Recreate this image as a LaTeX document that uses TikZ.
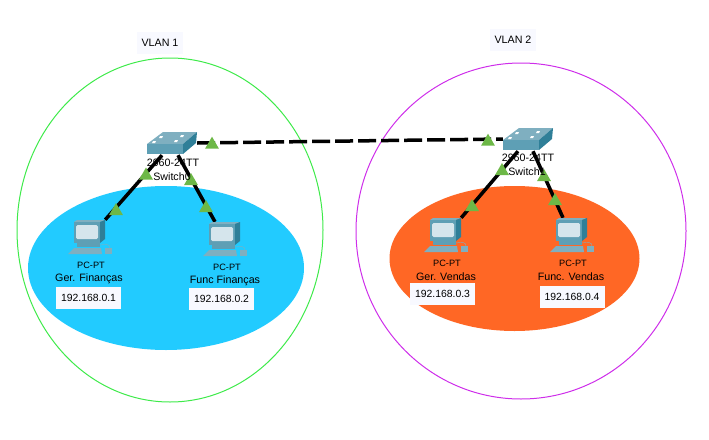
\documentclass[tikz,border=0pt]{standalone}
\usepackage{fontspec}
\setmainfont{Liberation Sans}
\usetikzlibrary{shapes.geometric}
\definecolor{vlanblue}{HTML}{22CBFF}
\definecolor{vlanorange}{HTML}{FF6725}
\definecolor{vlangreen}{HTML}{3EEA4A}
\definecolor{vlanpink}{HTML}{CE2EEA}
\definecolor{linkgreen}{HTML}{6DB847}
\definecolor{ciscotop}{HTML}{7FAFC0}
\definecolor{ciscofront}{HTML}{5E9FB5}
\definecolor{ciscoside}{HTML}{2F7F98}
\definecolor{ciscoscreen}{HTML}{D5E5EC}
\definecolor{ipwhite}{HTML}{F8F9FF}
\tikzset{
  devbox/.style={inner sep=0pt, minimum width=#1, minimum height=24pt},
  vlanring/.style={line width=1pt},
  link/.style={line width=3.5pt, black},
  trunk/.style={line width=3.5pt, black, dash pattern=on 18pt off 5pt},
  portup/.style={regular polygon, regular polygon sides=3, fill=linkgreen, inner sep=0pt, minimum size=16pt},
  lbl/.style={inner sep=0pt, font=\fontsize{10.7}{12}\selectfont},
  vlanlbl/.style={fill=ipwhite, inner sep=0pt, minimum width=46pt, minimum height=22pt, font=\fontsize{10.7}{12}\selectfont},
  pclbl/.style={inner sep=0pt, font=\fontsize{9.2}{11}\selectfont},
  iplbl/.style={fill=ipwhite, inner sep=0pt, minimum width=65pt, minimum height=22pt, font=\fontsize{10.4}{12}\selectfont},
  switchicon/.pic={
    \fill[ciscotop] (-25, 1) -- (-9, -11) -- (25, -11) -- (11, 1) -- cycle;
    \fill[ciscoside] (11, 1) -- (25, -11) -- (24, 0) -- (11, 11) -- cycle;
    \fill[ciscofront] (-25, 1) rectangle (11, 11);
    \fill[white] (-12, -7) -- (-9, -7) -- (-10, -5) -- (-13, -5) -- cycle;
    \fill[white] (9, -8) -- (12, -8) -- (11, -6) -- (8, -6) -- cycle;
    \fill[white] (-19, -2) -- (-16, -2) -- (-17, 0) -- (-20, 0) -- cycle;
    \fill[white] (3, -3) -- (6, -3) -- (5, -1) -- (2, -1) -- cycle;
  },
  pcicon/.pic={
    \fill[ciscotop] (-15, -10) -- (-12, -12) -- (16, -12) -- (11, -10) -- cycle;
    \fill[ciscoside] (11, -10) -- (16, -12) -- (16, 7) -- (11, 11) -- cycle;
    \fill[ciscofront] (-15, -10) rectangle (11, 11);
    \fill[ciscoscreen, rounded corners=1.5pt] (-13, -7) rectangle (9, 7);
    \fill[ciscofront] (-12, 11) rectangle (11, 15);
    \fill[ciscotop] (-21, 22) -- (-15, 16) -- (12, 16) -- (13, 22) -- cycle;
    \fill[ciscotop] (16, 16) rectangle (23, 22);
    \draw[ciscotop, thin] (11, 13) .. controls (17, 12) and (21, 12) .. (21, 16);
  }
}
\begin{document}
\begin{tikzpicture}[x=1pt, y=-1pt]
    \useasboundingbox (0, 0) rectangle (709, 439);
    \node[vlanlbl] (vlan1) at (160, 43) {VLAN 1};
    \node[vlanlbl] (vlan2) at (513, 40) {VLAN 2};
    \draw[vlanring, vlangreen] (170, 230) ellipse [x radius=153, y radius=172];
    \draw[vlanring, vlanpink] (521, 231) ellipse [x radius=165, y radius=168];
    \fill[vlanblue] (166, 268) ellipse [x radius=138, y radius=82];
    \fill[vlanorange] (514.5, 258.5) ellipse [x radius=125, y radius=72.5];

    \node[devbox=50pt] (Switch0) at (172, 143) {};
    \node[devbox=50pt] (Switch1) at (528, 139) {};
    \node[devbox=32pt] (PC0) at (89, 232) {};
    \node[devbox=32pt] (PC1) at (224, 234) {};
    \node[devbox=32pt] (PC2) at (445, 230) {};
    \node[devbox=32pt] (PC3) at (571, 230) {};

    \draw[trunk] (Switch0.east) -- (Switch1.west);
    \draw[link] ([xshift=-10pt]Switch0.south) -- (PC0.north east);
    \draw[link] ([xshift=6pt]Switch0.south) -- ([xshift=-9pt]PC1.north);
    \draw[link] ([xshift=-10pt]Switch1.south) -- (PC2.north east);
    \draw[link] ([xshift=5pt]Switch1.south) -- ([xshift=-8pt]PC3.north);

    \pic at (Switch0) {switchicon};
    \pic at (Switch1) {switchicon};
    \pic at (PC0) {pcicon};
    \pic at (PC1) {pcicon};
    \pic at (PC2) {pcicon};
    \pic at (PC3) {pcicon};

    \node[portup] (port0) at (212, 144.7) {};
    \node[portup] (port1) at (488, 141.7) {};
    \node[portup] (port2) at (146, 175.5) {};
    \node[portup] (port3) at (191, 181) {};
    \node[portup] (port4) at (116, 211) {};
    \node[portup] (port5) at (206, 208) {};
    \node[portup] (port6) at (502, 171) {};
    \node[portup] (port7) at (544, 177) {};
    \node[portup] (port8) at (472, 207) {};
    \node[portup] (port9) at (555, 201) {};

    \node[lbl] (model0) at (173, 163) {2960-24TT};
    \node[lbl] (name0) at (172, 177) {Switch0};
    \node[lbl] (model1) at (528, 158) {2960-24TT};
    \node[lbl] (name1) at (527, 172) {Switch1};

    \node[pclbl] (pctype0) at (91, 265) {PC-PT};
    \node[lbl] (pcname0) at (89, 279) {Ger. Finanças};
    \node[pclbl] (pctype1) at (227, 267) {PC-PT};
    \node[lbl] (pcname1) at (225, 281) {Func Finanças};
    \node[pclbl] (pctype2) at (447, 263) {PC-PT};
    \node[lbl] (pcname2) at (446, 277) {Ger. Vendas};
    \node[pclbl] (pctype3) at (573, 263) {PC-PT};
    \node[lbl] (pcname3) at (571, 277) {Func. Vendas};

    \node[iplbl] (ip0) at (88.5, 298) {192.168.0.1};
    \node[iplbl] (ip1) at (221.5, 299) {192.168.0.2};
    \node[iplbl] (ip2) at (442.5, 294) {192.168.0.3};
    \node[iplbl] (ip3) at (572, 296.5) {192.168.0.4};
\end{tikzpicture}
\end{document}
